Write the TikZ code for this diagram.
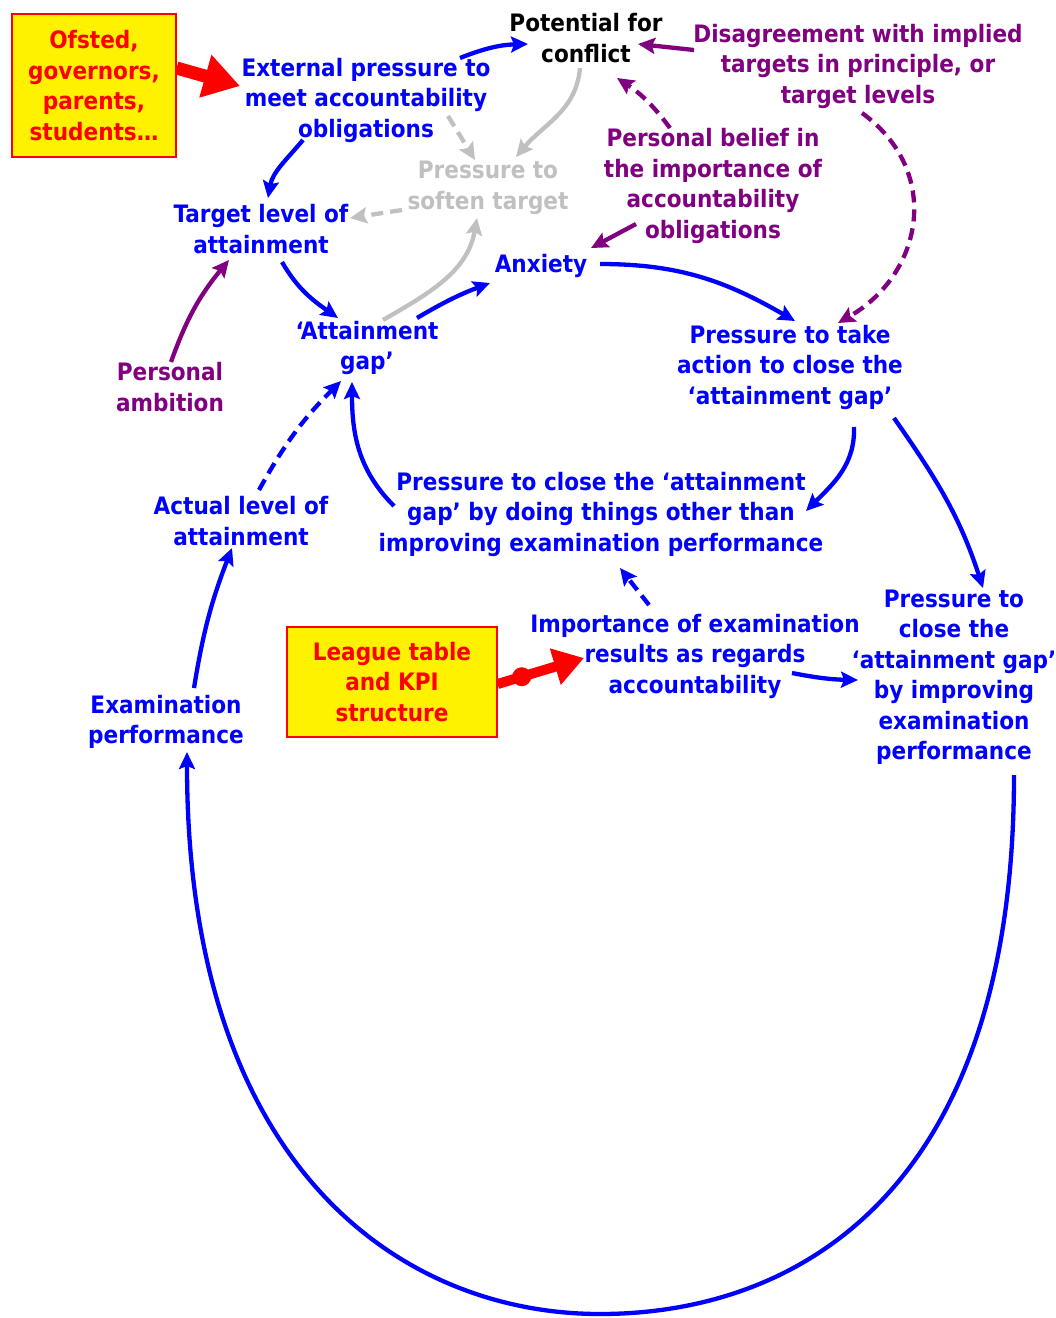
\documentclass[tikz,border=0pt]{standalone}
\usepackage{fontspec}
\setmainfont{DejaVu Sans Condensed}
\usetikzlibrary{arrows.meta, positioning}
\definecolor{causeblue}{RGB}{0,0,255}
\definecolor{causepurple}{RGB}{128,0,128}
\definecolor{causegray}{RGB}{192,192,192}
\tikzstyle{factor} = [align=center, font=\fontsize{24}{30.5}\selectfont\bfseries, text=causeblue, inner sep=1pt]
\tikzstyle{belief} = [factor, text=causepurple]
\tikzstyle{faded} = [factor, text=causegray]
\tikzstyle{driverbox} = [rectangle, factor, draw=red, fill=yellow, line width=1.2pt, text=red]
\tikzstyle{link} = [line width=4.3pt, -{Stealth[length=17pt,width=16pt,inset=3pt]}, draw=causeblue]
\tikzstyle{purplelink} = [link, draw=causepurple]
\tikzstyle{graylink} = [link, draw=causegray]
\tikzstyle{dashedlink} = [dash pattern=on 12pt off 7pt]
\tikzstyle{biglink} = [line width=13pt, -{Triangle[length=36pt,width=42pt]}, draw=red]
\tikzstyle{leaguelink} = [line width=10pt, -{Triangle[length=30pt,width=36pt]}, draw=red]
\tikzstyle{leaguedot} = [circle, fill=red, inner sep=0pt, minimum size=19pt]

\begin{document}
\begin{tikzpicture}[x=1pt, y=1pt]
    \useasboundingbox (0,0) rectangle (1056,-1318);
    % Outside drivers
    \node[driverbox, minimum width=164pt, minimum height=143pt] (ofsted) at (94,-85.5) {Ofsted,\\governors,\\parents,\\students…};
    \node[driverbox, minimum width=210pt, minimum height=110pt] (league) at (392,-682) {League table\\and KPI\\structure};

    % Factors - top half
    \node[factor] (ext) at (366,-100) {External pressure to\\meet accountability\\obligations};
    \node[factor, text=black] (conflict) at (586,-38) {Potential for\\conflict};
    \node[belief] (disagree) at (858,-66) {Disagreement with implied\\targets in principle, or\\target levels};
    \node[faded] (soften) at (488,-188) {Pressure to\\soften target};
    \node[belief] (personal) at (713,-186) {Personal belief in\\the importance of\\accountability\\obligations};
    \node[factor] (target) at (261,-229) {Target level of\\attainment};
    \node[factor] (anxiety) at (541,-266) {Anxiety};
    \node[factor] (gap) at (367,-348) {‘Attainment\\gap’};
    \node[belief] (ambition) at (170,-387) {Personal\\ambition};
    \node[factor] (action) at (790,-367) {Pressure to take\\action to close the\\‘attainment gap’};

    % Factors - bottom half
    \node[factor] (other) at (601,-514) {Pressure to close the ‘attainment\\gap’ by doing things other than\\improving examination performance};
    \node[factor] (actual) at (241,-521) {Actual level of\\attainment};
    \node[factor] (importance) at (695,-656) {Importance of examination\\results as regards\\accountability};
    \node[factor] (improve) at (954,-677) {Pressure to\\close the\\‘attainment gap’\\by improving\\examination\\performance};
    \node[factor] (exam) at (166,-722) {Examination\\performance};
    \coordinate (loopbottom) at (600,-1314);

    % Arrows
    \draw[biglink] ([yshift=17.5pt]ofsted.east) -- ([shift={(-126,14)}]ext.center);
    \draw[link] ([shift={(94,42)}]ext.center) to[bend left=10] ([shift={(-58,-6)}]conflict.center);
    \draw[purplelink] ([shift={(-164,16)}]disagree.center) -- ([shift={(52,-6)}]conflict.center);
    \draw[purplelink, dashedlink] ([shift={(-43,58)}]personal.center) to[bend right=10] ([shift={(31,-40)}]conflict.center);
    \draw[graylink] ([shift={(-6,-30)}]conflict.center) to[out=-95,in=50] ([shift={(28,31)}]soften.center);
    \draw[graylink, dashedlink] ([shift={(82,-16)}]ext.center) -- ([shift={(-13,28)}]soften.center);
    \draw[graylink, dashedlink] ([shift={(-86,-22)}]soften.center) -- ([shift={(89,11)}]target.center);
    \draw[link] ([shift={(-63,-40)}]ext.center) to[out=-130,in=80] ([shift={(7,31)}]target.center);
    \draw[graylink] ([shift={(16,28)}]gap.center) to[out=30,in=-100] ([shift={(-11,-30)}]soften.center);
    \draw[link] ([shift={(21,-33)}]target.center) to[out=-60,in=145] ([shift={(-29,30)}]gap.center);
    \draw[link] ([shift={(50,30)}]gap.center) to[bend left=5] ([shift={(-51,-17)}]anxiety.center);
    \draw[purplelink] ([shift={(1,25)}]ambition.center) to[bend left=10] ([shift={(-32,-31)}]target.center);
    \draw[purplelink] ([shift={(-77,-38)}]personal.center) -- ([shift={(50,18)}]anxiety.center);
    \draw[link] ([shift={(59,2)}]anxiety.center) to[out=0,in=150] ([shift={(5,46)}]action.center);
    \draw[purplelink, dashedlink] ([shift={(4,-47)}]disagree.center) to[out=-36,in=30,looseness=1.2] ([shift={(48,44)}]action.center);
    \draw[link] ([shift={(64,-60)}]action.center) to[out=-88,in=45] ([shift={(205,3)}]other.center);
    \draw[link] ([shift={(104,-51)}]action.center) to[out=-55,in=108] ([shift={(29,89)}]improve.center);
    \draw[link] ([shift={(-207,8)}]other.center) to[out=135,in=-90] ([shift={(-15,-34)}]gap.center);
    \draw[link, dashedlink] ([shift={(18,31)}]actual.center) to[bend left=8] ([shift={(-26,-33)}]gap.center);
    \draw[link] ([shift={(28,34)}]exam.center) to[bend left=6] ([shift={(-9,-27)}]actual.center);
    \draw[link, dashedlink] ([shift={(-46,51)}]importance.center) -- ([shift={(19,-54)}]other.center);
    \draw[leaguelink] ([yshift=-2pt]league.east) -- node[pos=0.28, leaguedot] {} ([shift={(-111,-2)}]importance.center);
    \draw[link] ([shift={(97,-17)}]importance.center) to[bend right=5] ([shift={(-96,-3)}]improve.center);
    \draw[link] ([shift={(60,-98)}]improve.center) .. controls +(0,-420) and +(195,0) .. (loopbottom)
        .. controls +(-195,0) and +(0,-420) .. ([shift={(21,-30)}]exam.center);
\end{tikzpicture}
\end{document}
